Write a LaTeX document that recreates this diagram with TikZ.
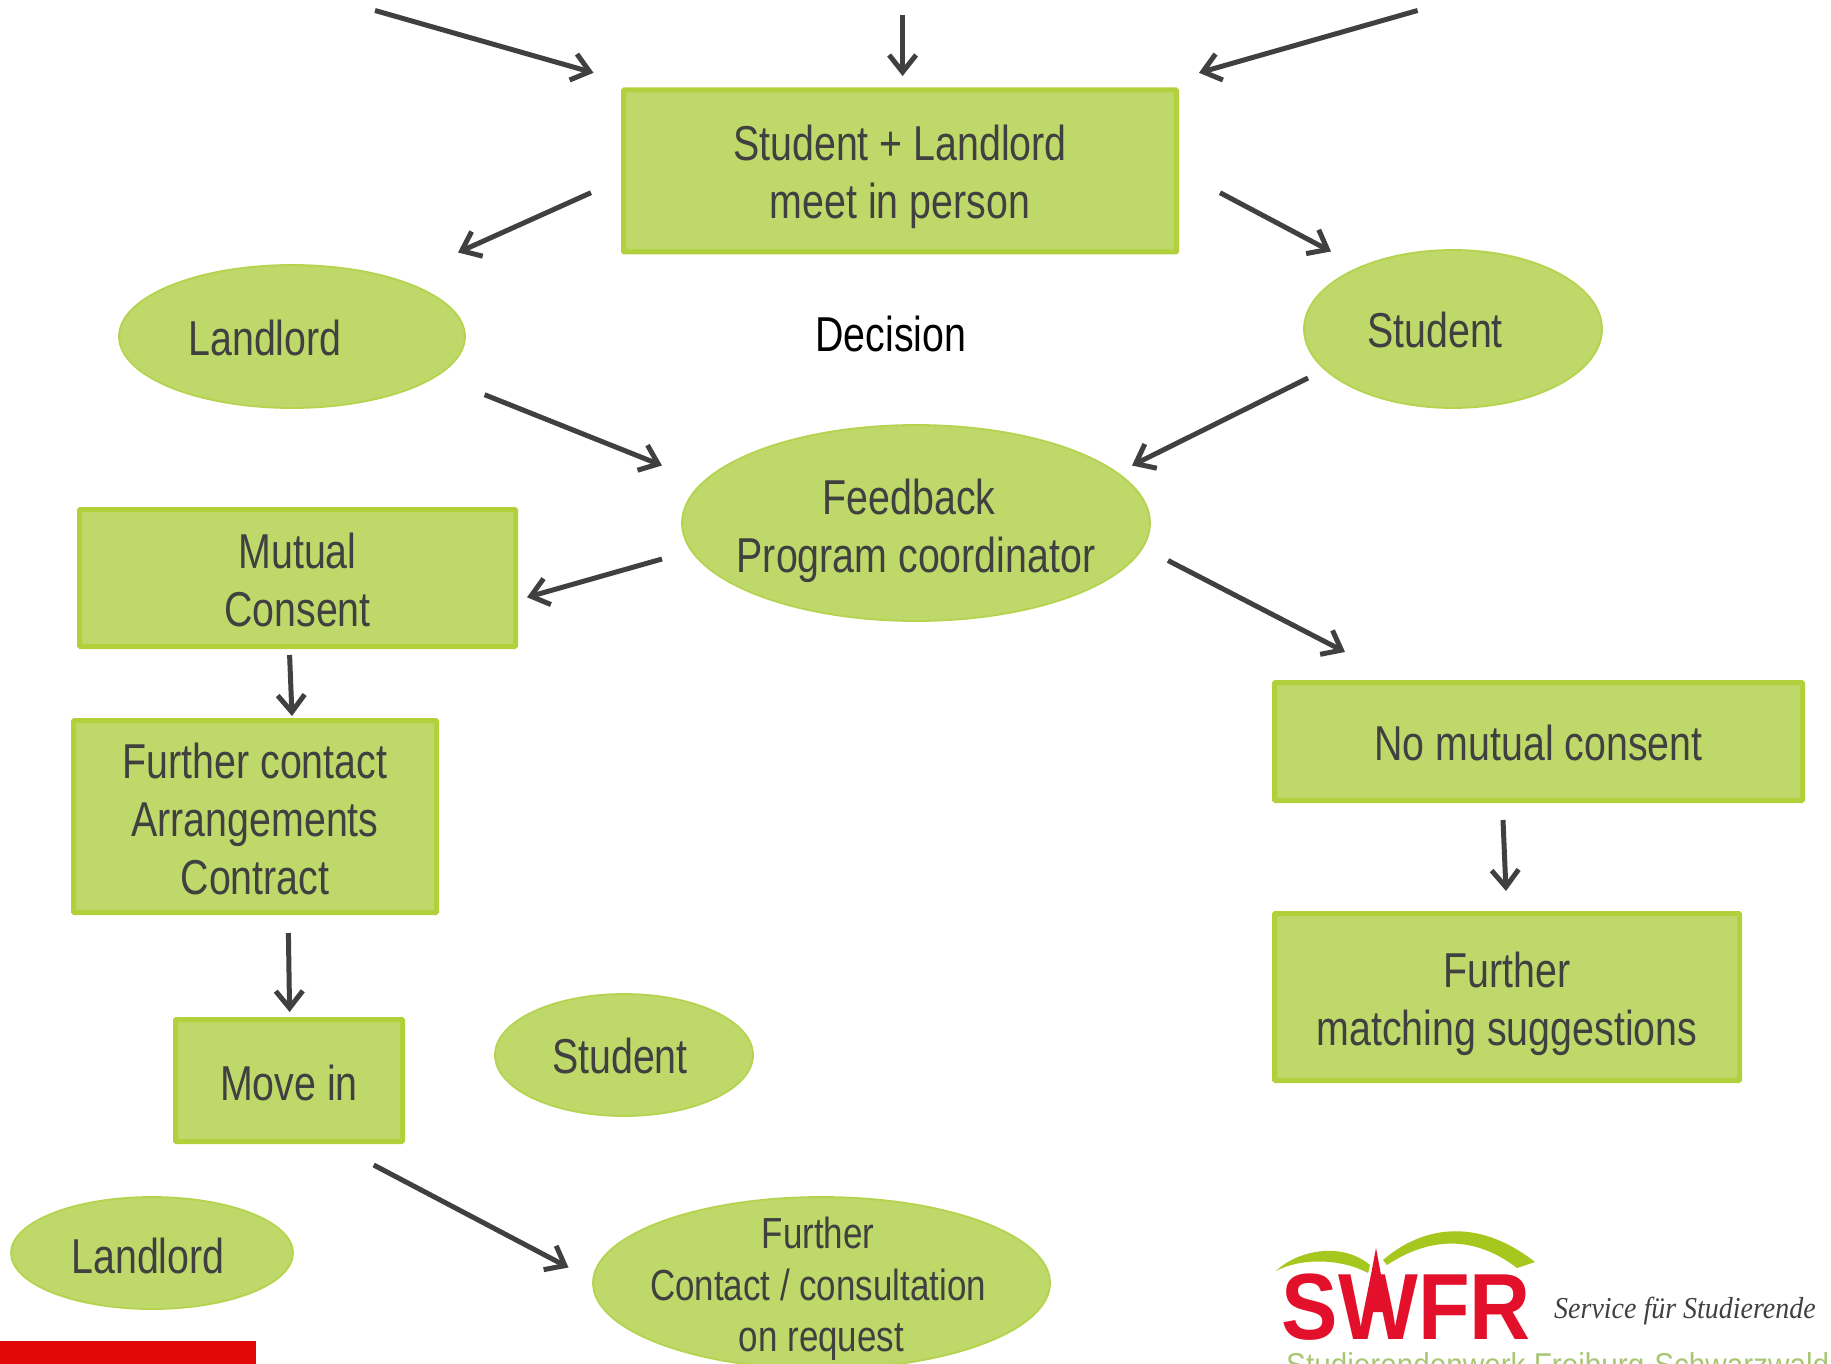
\documentclass[tikz,border=0pt]{standalone}
\usepackage{fontspec}
\setmainfont[FakeStretch=0.803]{Liberation Sans}
\newfontfamily\logofont[FakeStretch=0.9]{Liberation Sans}
\newfontfamily\svcfont[FakeStretch=0.92]{Liberation Serif}
\usetikzlibrary{arrows.meta,shapes.geometric}
\definecolor{gfill}{HTML}{BFD86A}
\definecolor{gline}{HTML}{B1D03C}
\definecolor{gthin}{HTML}{B5D34E}
\definecolor{ink}{HTML}{404040}
\definecolor{redbar}{HTML}{E30808}
\definecolor{swfrred}{HTML}{E2102A}
\definecolor{swfrgreen}{HTML}{A6C81E}
\definecolor{swfrtext}{HTML}{A9C675}
% pushes a node's text down by #1 inside its shape (adds height above the first line)
\newcommand{\pushdown}[1]{\rule{0pt}{\dimexpr36pt+2\dimexpr#1\relax\relax}}
\newcommand{\pushsmall}[1]{\rule{0pt}{\dimexpr32pt+2\dimexpr#1\relax\relax}}
\tikzset{
  boxnode/.style={draw=gline,fill=gfill,line width=5pt,rectangle,rounded corners=1pt,inner sep=0pt,text=ink,align=center,
    font=\fontsize{49}{58}\selectfont},
  ovalnode/.style={draw=gthin,fill=gfill,line width=1.8pt,ellipse,inner ysep=-12pt,inner xsep=-40pt,text=ink,align=center,
    font=\fontsize{49}{58}\selectfont},
  arrowline/.style={draw=ink,line width=5pt,-{Straight Barb[length=17pt,width=27pt,line width=5pt]}}
}
\begin{document}
\begin{tikzpicture}[x=1pt,y=-1pt]
\useasboundingbox (0,0) rectangle (1831,1364);
\clip (0,0) rectangle (1831,1364);
% boxes
\node[boxnode,minimum width=553pt,minimum height=162pt] (meet) at (900,171) {\pushdown{6pt}Student + Landlord\\meet in person};
\node[boxnode,minimum width=436pt,minimum height=137pt] (mutual) at (297.5,578) {\pushdown{2pt}Mutual\\Consent};
\node[boxnode,minimum width=363pt,minimum height=192pt] (contact) at (255,816.5) {\pushdown{2.5pt}Further contact\\Arrangements\\Contract};
\node[boxnode,minimum width=227pt,minimum height=122pt] (movein) at (289,1080.5) {\pushdown{2.5pt}Move in};
\node[boxnode,minimum width=528pt,minimum height=118pt] (nomutual) at (1538.5,741.5) {\pushdown{1.5pt}No mutual consent};
\node[boxnode,minimum width=465pt,minimum height=167pt] (matching) at (1507,997) {\pushdown{7pt}Further\\matching suggestions};
% ellipses
\node[ovalnode,minimum width=346pt,minimum height=143pt] (landlordA) at (292,336.5) {\pushdown{1pt}Landlord\hspace*{54pt}};
\node[ovalnode,minimum width=298pt,minimum height=158pt] (studentA) at (1453,329) {\pushdown{1pt}Student\hspace*{36pt}};
\node[ovalnode,minimum width=468pt,minimum height=196pt] (feedback) at (916,523) {\pushdown{7.5pt}Feedback\hspace*{14pt}\\Program coordinator};
\node[ovalnode,minimum width=258pt,minimum height=122pt] (studentB) at (624,1055) {\pushdown{1pt}Student\hspace*{8pt}};
\node[ovalnode,minimum width=282pt,minimum height=112pt] (landlordB) at (152,1253) {\pushdown{2.5pt}Landlord\hspace*{8pt}};
\node[ovalnode,minimum width=457pt,minimum height=172pt,inner ysep=-35pt,font=\fontsize{43.5}{51.5}\selectfont] (consult) at (821.5,1283) {\pushsmall{6pt}Further\hspace*{7pt}\\\mbox{Contact / consultation\kern7pt}\\on request};
% free text
\node[text=black,font=\fontsize{49}{58}\selectfont] (decision) at (891,334) {Decision};
% connector ends
\coordinate (a1s) at (375,10.5);   \coordinate (a1e) at (593.5,72.8);
\coordinate (a2s) at (902.6,15);   \coordinate (a2e) at (902.6,76);
\coordinate (a3s) at (1417.6,10.5);\coordinate (a3e) at (1199,72.8);
\coordinate (a4s) at (591,192.7);  \coordinate (a4e) at (458,252.5);
\coordinate (a5s) at (1220,192.7); \coordinate (a5e) at (1331,251.5);
\coordinate (a6s) at (484.6,394.7);\coordinate (a6e) at (662,465.5);
\coordinate (a7s) at (1308,378);   \coordinate (a7e) at (1132,465.5);
\coordinate (a8s) at (662,559);    \coordinate (a8e) at (527,597.3);
\coordinate (a9s) at (1168,560.5); \coordinate (a9e) at (1345,652);
\coordinate (a10s) at (289.6,655); \coordinate (a10e) at (292,716);
\coordinate (a11s) at (288.4,933); \coordinate (a11e) at (289.6,1012);
\coordinate (a12s) at (1503,820);  \coordinate (a12e) at (1506,891);
\coordinate (a13s) at (373.7,1165);\coordinate (a13e) at (568.5,1267.5);
\foreach \k in {1,...,13} {\draw[arrowline] (a\k s) -- (a\k e);}
% red bar
\fill[redbar] (0,1341) rectangle (256,1364);
% logo
\fill[swfrgreen] (1276,1271) .. controls (1295,1252) and (1340,1240) .. (1370,1265)
  -- (1368,1273) .. controls (1340,1258) and (1300,1258) .. cycle;
\fill[swfrgreen] (1383,1260) .. controls (1420,1228) and (1475,1215) .. (1535,1262)
  -- (1517,1268) .. controls (1470,1232) and (1425,1240) .. (1387,1265) -- cycle;
\node[text=swfrred,font=\logofont\bfseries\fontsize{94}{94}\selectfont,anchor=base,inner sep=0pt] (swfr) at (1406.5,1339) {SWFR};
\fill[swfrred] (1376,1248) -- (1364,1312) -- (1388,1312) -- cycle;
\node[text=ink,font=\svcfont\itshape\fontsize{30.4}{31}\selectfont,anchor=base west,inner sep=0pt] (service) at (1554,1318) {Service für Studierende};
\node[text=swfrtext,font=\logofont\fontsize{33}{34}\selectfont,anchor=base west,inner sep=0pt] (swtext) at (1286,1376) {Studierendenwerk Freiburg-Schwarzwald};
\end{tikzpicture}
\end{document}
